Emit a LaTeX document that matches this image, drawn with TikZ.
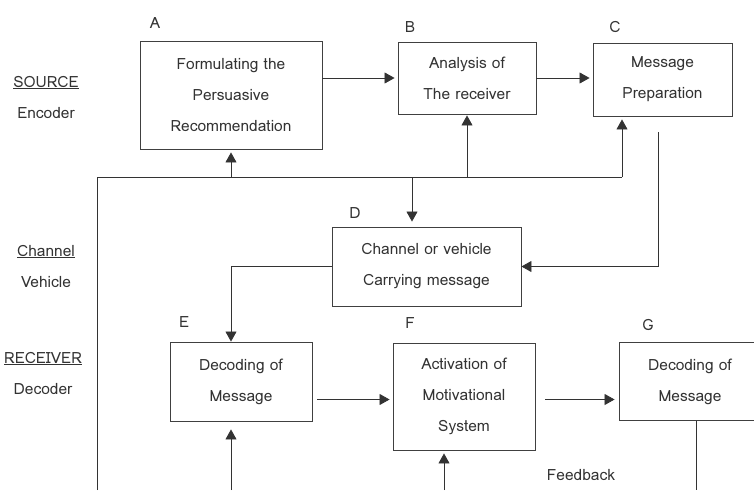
\documentclass[tikz,border=0pt]{standalone}
\usepackage{fontspec}
\setmainfont{Loma}
\usetikzlibrary{arrows.meta, positioning}

\begin{document}
\begin{tikzpicture}[x=1pt, y=-1pt]
	\tikzset{>={Triangle[length=10pt, width=11pt]},
		box/.style={draw=black!75, line width=0.9pt, align=center, inner sep=0pt, text=black!80, font=\fontsize{15.5}{31}\selectfont},
		tag/.style={text=black!80, font=\fontsize{15.5}{17}\selectfont},
		side/.style={align=center, text=black!80, font=\fontsize{15.5}{31}\selectfont},
		link/.style={->, draw=black!80, line width=0.8pt},
		wire/.style={draw=black!80, line width=0.8pt}}
	\useasboundingbox (0,0) rectangle (754,490);

	% side labels
	\node[side] (src) at (46,97) {\underline{SOURCE}\\Encoder};
	\node[side] (chn) at (46,266) {\underline{Channel}\\Vehicle};
	\node[side] (rcv) at (43,373) {\underline{RECEIVER}\\Decoder};

	% boxes
	\node[box, minimum width=182pt, minimum height=108pt] (fA) at (231,95) {Formulating the\\Persuasive\\Recommendation};
	\node[box, minimum width=138pt, minimum height=72pt] (fB) at (467,78) {Analysis of\\The receiver};
	\node[box, minimum width=139pt, minimum height=73pt] (fC) at (662.5,79.5) {Message\\Preparation};
	\node[box, minimum width=189pt, minimum height=79pt] (fD) at (426.5,266.5) {Channel or vehicle\\Carrying message};
	\node[box, minimum width=142pt, minimum height=79pt] (fE) at (241,381.5) {Decoding of\\Message};
	\node[box, minimum width=142pt, minimum height=107pt] (fF) at (464,396.5) {Activation of\\Motivational\\System};
	\node[box, minimum width=142pt, minimum height=78pt] (fG) at (690,381.5) {Decoding of\\Message};

	% letters
	\node[tag] (lA) at (155,23) {A};
	\node[tag] (lB) at (410,27) {B};
	\node[tag] (lC) at (615,27) {C};
	\node[tag] (lD) at (355,213) {D};
	\node[tag] (lE) at (184,322) {E};
	\node[tag] (lF) at (410,323) {F};
	\node[tag] (lG) at (648,325) {G};
	\node[tag] (fb) at (581,475) {Feedback};

	% free ends
	\coordinate (railL) at (97,490);
	\coordinate (railT) at (97,177);
	\coordinate (railR) at (622,177);
	\coordinate (railD) at (412,177);
	\coordinate (cOut) at (658,132);
	\coordinate (eOut) at (317,399.5);
	\coordinate (fOut) at (545,399.5);
	\coordinate (eIn) at (231,490);
	\coordinate (fIn) at (444,490);
	\coordinate (gOut) at (696,490);

	\draw[link, shorten >=3pt] (fA.east |- fB.west) -- (fB.west);
	\draw[link, shorten >=3pt] (fB.east) -- (fB.east -| fC.west);
	\draw[wire] (railL) -- (railT) -- (railR);
	\draw[link, shorten >=3pt] (fA.south |- railT) -- (fA.south);
	\draw[link, shorten >=1pt] (fB.south |- railT) -- (fB.south);
	\draw[link, shorten >=3pt] (railR) -- (railR |- fC.south);
	\draw[link, shorten >=5pt] (railD) -- (railD |- fD.north);
	\draw[link] (cOut) |- (fD.east);
	\draw[link] (fD.west) -| ([xshift=-10pt]fE.north);
	\draw[link, shorten >=3pt] (eOut) -- (eOut -| fF.west);
	\draw[link, shorten >=4pt] (fOut) -- (fOut -| fG.west);
	\draw[link, shorten >=8pt] (eIn) -- (eIn |- fE.south);
	\draw[link, shorten >=3pt] (fIn) -- (fIn |- fF.south);
	\draw[wire] (gOut |- fG.south) -- (gOut);
\end{tikzpicture}
\end{document}
